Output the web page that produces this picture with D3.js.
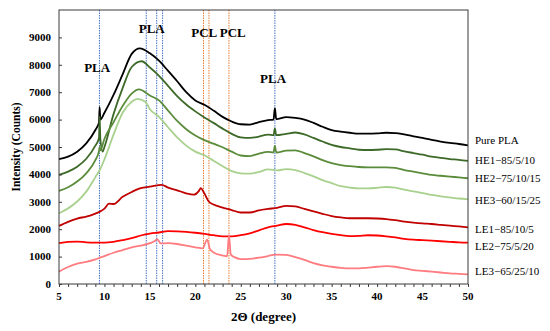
<!DOCTYPE html>
<html>
<head>
<meta charset="utf-8">
<script src="https://cdn.jsdelivr.net/npm/d3@7"></script>
<style>
  body { margin: 0; background: #fff; }
  text { font-family: "Liberation Serif", "Times New Roman", serif; }
</style>
</head>
<body>
<div id="chart"></div>
<script>
// XRD patterns, [2theta, counts]
var pure = [[5,4560],[6,4650],[7,4830],[8,5130],[9,5620],[9.4,5900],[9.47,6450],[9.55,6000],[10,6250],[11,6900],[12,7650],[13,8400],[13.9,8600],[15,8420],[16,8150],[17,7780],[18,7400],[19,7000],[20,6700],[21,6540],[22,6330],[23,6100],[24,5930],[25,5830],[26,5820],[27,5910],[28,5980],[28.6,6000],[28.75,6420],[28.9,6020],[30,6090],[31,6060],[32,6000],[33,5880],[34,5740],[35,5620],[36,5560],[37,5520],[38,5490],[39,5490],[40,5500],[41,5520],[42,5510],[43,5460],[44,5390],[45,5330],[46,5260],[47,5200],[48,5150],[49,5110],[50,5060]];
var he1 = [[5,3980],[6,4100],[7,4280],[8,4570],[9,5050],[9.4,5330],[9.47,6120],[9.55,5300],[9.8,4830],[10,5000],[11,6200],[12,7150],[13,7920],[14.1,8130],[15,7900],[16,7600],[17,7230],[18,6860],[19,6550],[20,6300],[21,6080],[22,5880],[23,5670],[24,5480],[25,5350],[26,5330],[27,5380],[28,5450],[28.6,5430],[28.75,5680],[28.9,5430],[30,5480],[31,5530],[32,5460],[33,5330],[34,5200],[35,5080],[36,5000],[37,4950],[38,4900],[39,4890],[40,4900],[41,4920],[42,4910],[43,4840],[44,4780],[45,4720],[46,4650],[47,4600],[48,4560],[49,4530],[50,4490]];
var he2 = [[5,3400],[6,3530],[7,3740],[8,4040],[9,4520],[9.4,4850],[9.47,5000],[9.55,4880],[10,5300],[11,5900],[12,6500],[13,6950],[13.8,7100],[15,6880],[16,6700],[17,6330],[18,5950],[19,5650],[20,5420],[21,5250],[22,5120],[23,4990],[24,4830],[25,4690],[26,4670],[27,4760],[28,4820],[28.6,4800],[28.75,5040],[28.9,4800],[30,4870],[31,4880],[32,4780],[33,4660],[34,4520],[35,4410],[36,4340],[37,4300],[38,4270],[39,4260],[40,4260],[41,4260],[42,4240],[43,4160],[44,4100],[45,4040],[46,3980],[47,3950],[48,3920],[49,3890],[50,3860]];
var he3 = [[5,2580],[6,2760],[7,3010],[8,3370],[9,3900],[9.5,4170],[10,4550],[11,5450],[12,6250],[13,6650],[13.6,6760],[14.5,6650],[15,6380],[16,6100],[17,5720],[18,5350],[19,5050],[20,4830],[21,4700],[22,4500],[23,4300],[24,4120],[25,4040],[26,4030],[27,4090],[28,4180],[29,4150],[30,4190],[31,4160],[32,4050],[33,3930],[34,3790],[35,3680],[36,3570],[37,3520],[38,3490],[39,3490],[40,3510],[41,3540],[42,3520],[43,3440],[44,3380],[45,3320],[46,3250],[47,3200],[48,3160],[49,3120],[50,3090]];
var le1 = [[5,2120],[6,2270],[7,2390],[8,2460],[9,2570],[9.5,2640],[10,2750],[10.5,2930],[11,2920],[12,3180],[13,3360],[14,3500],[15,3550],[16.3,3620],[17,3520],[18,3420],[19,3310],[19.8,3260],[20.4,3400],[20.6,3500],[21,3300],[21.5,3000],[22,2900],[23,2790],[24,2700],[25,2610],[26,2610],[27,2690],[28,2740],[29,2780],[30,2850],[31,2830],[32,2740],[33,2650],[34,2560],[35,2480],[36,2430],[37,2400],[38,2400],[39,2400],[40,2390],[41,2370],[42,2330],[43,2280],[44,2240],[45,2210],[46,2190],[47,2160],[48,2130],[49,2100],[50,2070]];
var le2 = [[5,1490],[6,1540],[7,1550],[8,1520],[9,1510],[10,1510],[11,1540],[12,1600],[13,1670],[14,1770],[15,1840],[16,1880],[17,1930],[18,1920],[19,1900],[20,1870],[21,1830],[22,1780],[23,1740],[24,1740],[25,1780],[26,1850],[27,1960],[28,2070],[29,2130],[30,2190],[31,2160],[32,2070],[33,1970],[34,1890],[35,1830],[36,1780],[37,1750],[38,1760],[39,1780],[40,1770],[41,1740],[42,1700],[43,1650],[44,1620],[45,1600],[46,1580],[47,1560],[48,1540],[49,1520],[50,1510]];
var le3 = [[5,450],[6,620],[7,740],[8,810],[9,900],[9.5,960],[10,1020],[11,1140],[12,1240],[13,1340],[14,1400],[15,1490],[15.5,1560],[15.8,1640],[16.2,1480],[17,1490],[18,1460],[19,1400],[20,1340],[20.8,1300],[21.3,1620],[21.6,1280],[22,1150],[23,1040],[23.5,1010],[23.7,1790],[23.9,1080],[24.3,980],[25,910],[26,920],[27,960],[28,1020],[28.8,1070],[30,1060],[31,980],[32,880],[33,760],[34,680],[35,630],[36,590],[37,570],[38,570],[39,600],[40,630],[41,650],[42,630],[43,570],[44,510],[45,480],[46,450],[47,420],[48,390],[49,370],[50,350]];

var seriesNames = ["Pure PLA", "HE1\u221285/5/10", "HE2\u221275/10/15", "HE3\u221260/15/25", "LE1\u221285/10/5", "LE2\u221275/5/20", "LE3\u221265/25/10"];
var seriesData = [pure, he1, he2, he3, le1, le2, le3];
var seriesColors = ["#000000", "#3d6a28", "#5b8c3b", "#a9d18e", "#c00000", "#ff0000", "#ff7c80"];
// nudge of each name from its curve end, px
var nameShift = [-5, -1, 0, 1, 2, 4, -3];

var plaPeaks = [9.45, 14.6, 15.75, 16.4, 28.75];
var pclPeaks = [20.9, 21.5, 23.7];
var peakLabels = [["PLA", 9.2, 7920], ["PLA", 15.2, 9310], ["PCL PCL", 22.55, 9190], ["PLA", 28.55, 7520]];

var xTicks = [5, 10, 15, 20, 25, 30, 35, 40, 45, 50];
var yTicks = [0, 1000, 2000, 3000, 4000, 5000, 6000, 7000, 8000, 9000];

var width = 550, height = 331;
var margin = {top: 10, right: 82, bottom: 47, left: 59};

var x = d3.scaleLinear().domain([5, 50]).range([margin.left, width - margin.right]);
var y = d3.scaleLinear().domain([0, 10000]).range([height - margin.bottom, margin.top]);

var svg = d3.select("#chart").append("svg")
    .attr("width", width)
    .attr("height", height);

// peak marker lines
svg.append("g").selectAll("line")
    .data(plaPeaks.map(function(d) { return [d, "#4472c4"]; }).concat(pclPeaks.map(function(d) { return [d, "#ed7d31"]; })))
    .enter().append("line")
    .attr("x1", function(d) { return x(d[0]); })
    .attr("x2", function(d) { return x(d[0]); })
    .attr("y1", y(0))
    .attr("y2", y(10000))
    .attr("stroke", function(d) { return d[1]; })
    .attr("stroke-width", 1)
    .attr("stroke-dasharray", "1.5,1");

var line = d3.line()
    .x(function(d) { return x(d[0]); })
    .y(function(d) { return y(d[1]); })
    .curve(d3.curveMonotoneX);

svg.append("g").selectAll("path")
    .data(seriesData)
    .enter().append("path")
    .attr("d", line)
    .attr("fill", "none")
    .attr("stroke", function(d, i) { return seriesColors[i]; })
    .attr("stroke-width", 1.8);

// frame
svg.append("rect")
    .attr("x", x(5))
    .attr("y", y(10000))
    .attr("width", x(50) - x(5))
    .attr("height", y(0) - y(10000))
    .attr("fill", "none")
    .attr("stroke", "#3a3a3a")
    .attr("stroke-width", 1);

// x axis
var xAxis = svg.append("g")
    .attr("transform", "translate(0," + y(0) + ")")
    .call(d3.axisBottom(x).tickValues(d3.range(5, 51, 1)).tickSize(3).tickFormat(""));
xAxis.select(".domain").remove();
xAxis.selectAll("line").attr("stroke", "#3a3a3a");

svg.append("g").selectAll("text")
    .data(xTicks)
    .enter().append("text")
    .attr("x", function(d) { return x(d); })
    .attr("y", y(0) + 16)
    .attr("text-anchor", "middle")
    .attr("font-weight", "bold")
    .attr("font-size", 11)
    .text(function(d) { return d; });

// y axis
var yAxis = svg.append("g")
    .attr("transform", "translate(" + x(5) + ",0)")
    .call(d3.axisRight(y).tickValues(yTicks).tickSize(3).tickFormat(""));
yAxis.select(".domain").remove();
yAxis.selectAll("line").attr("stroke", "#3a3a3a");

svg.append("g").selectAll("text")
    .data(yTicks)
    .enter().append("text")
    .attr("x", x(5) - 8)
    .attr("y", function(d) { return y(d); })
    .attr("dy", "0.35em")
    .attr("text-anchor", "end")
    .attr("font-weight", "bold")
    .attr("font-size", 11)
    .text(function(d) { return d; });

svg.append("text")
    .attr("x", (x(5) + x(50)) / 2)
    .attr("y", 321)
    .attr("text-anchor", "middle")
    .attr("font-weight", "bold")
    .attr("font-size", 13)
    .text("2\u0398 (degree)");

svg.append("text")
    .attr("transform", "translate(20," + ((y(0) + y(10000)) / 2) + ") rotate(-90)")
    .attr("text-anchor", "middle")
    .attr("font-weight", "bold")
    .attr("font-size", 11.5)
    .text("Intensity (Counts)");

// peak names
svg.append("g").selectAll("text")
    .data(peakLabels)
    .enter().append("text")
    .attr("x", function(d) { return x(d[1]); })
    .attr("y", function(d) { return y(d[2]); })
    .attr("dy", "0.35em")
    .attr("text-anchor", "middle")
    .attr("font-weight", "bold")
    .attr("font-size", 13)
    .text(function(d) { return d[0]; });

// series names at the right end of each curve
svg.append("g").selectAll("text")
    .data(seriesData)
    .enter().append("text")
    .attr("x", x(50) + 7)
    .attr("y", function(d, i) { return y(d[d.length - 1][1]) + nameShift[i]; })
    .attr("dy", "0.35em")
    .attr("font-size", 11)
    .text(function(d, i) { return seriesNames[i]; });
</script>
</body>
</html>
